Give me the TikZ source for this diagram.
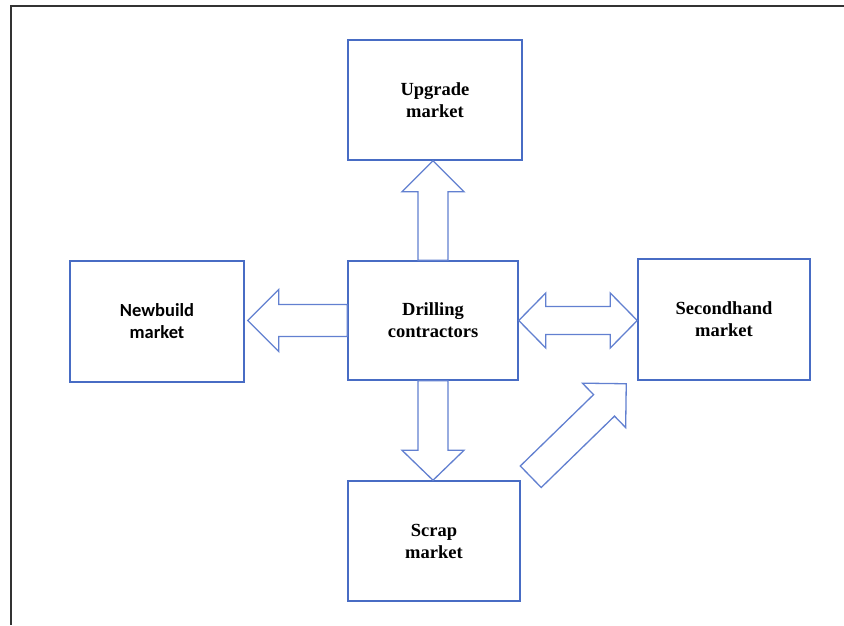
\documentclass[tikz,border=0pt]{standalone}
\usepackage{fontspec}
\setmainfont{Liberation Serif}
\newfontfamily\calibfont{Carlito}
\usetikzlibrary{calc}
\definecolor{boxblue}{RGB}{72,108,196}
\definecolor{arrblue}{RGB}{98,128,208}
\tikzset{
  mkt/.style={draw=boxblue, line width=1.5pt, fill=white, align=center,
    font=\fontsize{18.5}{22}\selectfont\bfseries, inner sep=0pt},
  blockarr/.style={draw=arrblue, line width=1.3pt, line join=miter, fill=white}
}
\newcommand\blockarrow[5]{%
  \coordinate (ba-h) at ($(#2)!#5!(#1)$);
  \draw[blockarr] ($(#1)!#3!90:(#2)$) -- ($(ba-h)!#3!90:(#2)$) -- ($(ba-h)!#4!90:(#2)$)
    -- (#2) -- ($(ba-h)!#4!-90:(#2)$) -- ($(ba-h)!#3!-90:(#2)$) -- ($(#1)!#3!-90:(#2)$) -- cycle;
}
\newcommand\dblblockarrow[5]{%
  \coordinate (bb-a) at ($(#1)!#5!(#2)$);
  \coordinate (bb-b) at ($(#2)!#5!(#1)$);
  \draw[blockarr] (#1) -- ($(bb-a)!#4!90:(#2)$) -- ($(bb-a)!#3!90:(#2)$) -- ($(bb-b)!#3!90:(#2)$)
    -- ($(bb-b)!#4!90:(#2)$) -- (#2) -- ($(bb-b)!#4!-90:(#2)$) -- ($(bb-b)!#3!-90:(#2)$)
    -- ($(bb-a)!#3!-90:(#2)$) -- ($(bb-a)!#4!-90:(#2)$) -- cycle;
}
\begin{document}
\begin{tikzpicture}[x=1pt, y=-1pt]
\useasboundingbox (0,0) rectangle (844,625);
\fill[white] (0,0) rectangle (844,625);
\draw[line width=2pt, black!80] (844,6) -- (11,6) -- (11,625);

\node[mkt, minimum width=174pt, minimum height=120pt] (up) at (435,100) {Upgrade\\market};
\node[mkt, minimum width=174pt, minimum height=121pt] (newb) at (157,321.5) {\calibfont Newbuild\\\calibfont market};
\node[mkt, minimum width=170pt, minimum height=119pt] (drill) at (433,320.5) {Drilling\\contractors};
\node[mkt, minimum width=172pt, minimum height=121pt] (second) at (724,319.5) {Secondhand\\market};
\node[mkt, minimum width=172pt, minimum height=120pt] (scrap) at (434,541) {Scrap\\market};

\coordinate (upend) at (drill.north |- up.south);
\coordinate (nbend) at ($(newb.east |- drill.west)+(3,0)$);
\coordinate (shend) at (second.west |- drill.east);
\coordinate (scend) at (drill.south |- scrap.north);
\coordinate (diagstart) at ($(scrap.north east)+(10,-3.5)$);
\coordinate (diagend) at ($(second.south west)+(-11,3)$);

\blockarrow{drill.north}{upend}{15pt}{31pt}{31pt}
\blockarrow{drill.west}{nbend}{16pt}{31pt}{31pt}
\dblblockarrow{drill.east}{shend}{14pt}{27.5pt}{27pt}
\blockarrow{drill.south}{scend}{15pt}{31pt}{30pt}
\blockarrow{diagstart}{diagend}{15pt}{31pt}{31pt}
\end{tikzpicture}
\end{document}
